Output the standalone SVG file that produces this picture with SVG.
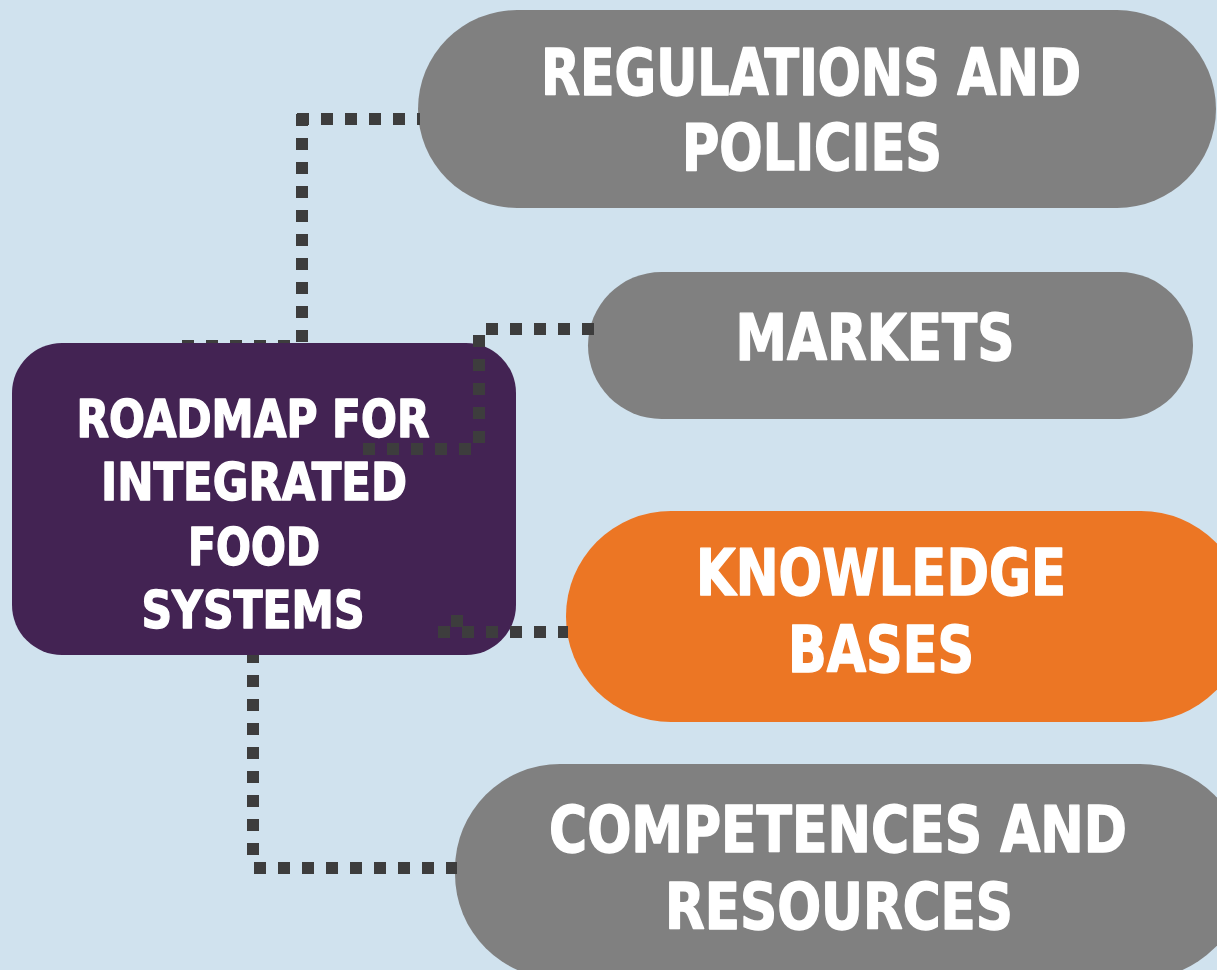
<svg xmlns="http://www.w3.org/2000/svg" width="1217" height="970" viewBox="0 0 1217 970">
<style>
.pill{fill:#808080}
.pill-o{fill:#ec7624}
.core{fill:#432353}
.lbl{font-family:"DejaVu Sans Condensed","DejaVu Sans","Liberation Sans",sans-serif;font-weight:bold;fill:#ffffff;stroke:#ffffff;stroke-width:1.4;stroke-linejoin:round;text-anchor:middle}
.big{font-size:64px}
.mid{font-size:52px}
.dot{fill:none;stroke:#3d3d3d;stroke-width:12;stroke-dasharray:12 12;stroke-linecap:butt}
</style>
<defs>
<clipPath id="aboveCore"><rect x="0" y="0" width="1217" height="343"/></clipPath>
</defs>
<rect x="0" y="0" width="1217" height="970" fill="#d0e2ee"/>

<g id="node-regulations">
<rect class="pill" x="418" y="10" width="798" height="198" rx="99" ry="99"/>
<text class="lbl big" x="811" y="95" textLength="540" lengthAdjust="spacingAndGlyphs">REGULATIONS AND</text>
<text class="lbl big" x="812" y="170" textLength="260" lengthAdjust="spacingAndGlyphs">POLICIES</text>
</g>

<g id="node-markets">
<rect class="pill" x="588" y="272" width="605" height="147" rx="73.5" ry="73.5"/>
<text class="lbl big" x="875" y="360" textLength="279" lengthAdjust="spacingAndGlyphs">MARKETS</text>
</g>

<g id="node-knowledge">
<rect class="pill-o" x="566" y="511" width="680" height="211" rx="105" ry="105"/>
<text class="lbl big" x="881" y="595" textLength="370" lengthAdjust="spacingAndGlyphs">KNOWLEDGE</text>
<text class="lbl big" x="881" y="672" textLength="186" lengthAdjust="spacingAndGlyphs">BASES</text>
</g>

<g id="node-competences">
<rect class="pill" x="455" y="764" width="790" height="215" rx="105" ry="105"/>
<text class="lbl big" x="838" y="852" textLength="578" lengthAdjust="spacingAndGlyphs">COMPETENCES AND</text>
<text class="lbl big" x="839" y="929" textLength="348" lengthAdjust="spacingAndGlyphs">RESOURCES</text>
</g>

<g id="node-roadmap">
<rect class="core" x="12" y="343" width="504" height="312" rx="50" ry="50"/>
<text class="lbl mid" x="253" y="437" textLength="353" lengthAdjust="spacingAndGlyphs">ROADMAP FOR</text>
<text class="lbl mid" x="254" y="500" textLength="306" lengthAdjust="spacingAndGlyphs">INTEGRATED</text>
<text class="lbl mid" x="254" y="565" textLength="132" lengthAdjust="spacingAndGlyphs">FOOD</text>
<text class="lbl mid" x="253" y="628" textLength="223" lengthAdjust="spacingAndGlyphs">SYSTEMS</text>
</g>

<g id="connectors">
<g clip-path="url(#aboveCore)">
<path class="dot" d="M182 346 H296"/>
<path class="dot" d="M302 342 V113"/>
</g>
<path class="dot" d="M297 119 H420"/>
<path class="dot" d="M486 329 H596"/>
<path class="dot" d="M479 335 V447"/>
<path class="dot" d="M363 449 H473"/>
<path class="dot" d="M438 632 H568"/>
<path class="dot" d="M451 621 H463"/>
<path class="dot" d="M253 655 V857" stroke-dashoffset="4"/>
<path class="dot" d="M254 868 H457"/>
</g>
</svg>
